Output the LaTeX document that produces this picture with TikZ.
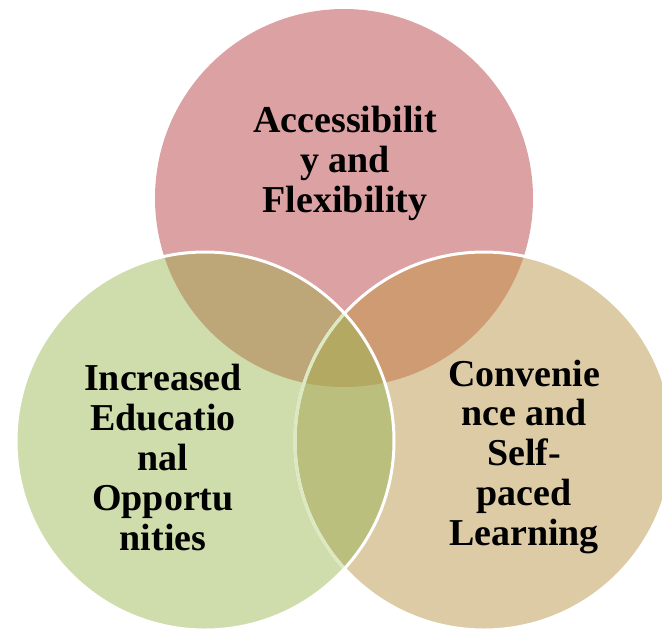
\documentclass[tikz,border=0pt]{standalone}
\usepackage{fontspec}
\setmainfont{Liberation Serif}

\definecolor{pinkA}{HTML}{DCA2A3}
\definecolor{greenB}{HTML}{CFDCAB}
\definecolor{tanC}{HTML}{DDCBA5}
\definecolor{ovAB}{HTML}{BDA677}
\definecolor{ovAC}{HTML}{CF9B73}
\definecolor{ovBC}{HTML}{BABF7E}
\definecolor{ovABC}{HTML}{B3A963}
\definecolor{rimBC}{HTML}{DCE8C0}

\begin{document}
\begin{tikzpicture}[x=1pt,y=-1pt]

\tikzset{label/.style={align=center,font=\bfseries\fontsize{38}{40}\selectfont,inner sep=0pt}}
\tikzset{rim/.style={draw=white,line width=3pt}}

\useasboundingbox (0,0) rectangle (662,633);

\def\rad{189}
\coordinate (cA) at (344,198);
\coordinate (cB) at (205,441);
\coordinate (cC) at (484,441);

% plain discs
\fill[pinkA] (cA) circle (\rad);
\fill[greenB] (cB) circle (\rad);
\fill[tanC] (cC) circle (\rad);

% overlaps
\begin{scope}
\clip (cA) circle (\rad);
\fill[ovAB] (cB) circle (\rad);
\fill[ovAC] (cC) circle (\rad);
\end{scope}
\begin{scope}
\clip (cB) circle (\rad);
\fill[ovBC] (cC) circle (\rad);
\clip (cC) circle (\rad);
\fill[ovABC] (cA) circle (\rad);
\end{scope}

% rims
\draw[rim] (cC) circle (\rad);
\begin{scope}
\clip (cB) circle (\rad);
\draw[rimBC,line width=3pt] (cC) circle (\rad);
\end{scope}
\draw[rim] (cB) circle (\rad);

\node[label] (acc) at (345,163) {Accessibilit\\y and\\Flexibility};
\node[label] (edu) at (163,457) {Increased\\Educatio\\nal\\Opportu\\nities};
\node[label] (conv) at (524,457) {Convenie\\nce and\\Self-\\paced\\Learning};

\end{tikzpicture}
\end{document}
